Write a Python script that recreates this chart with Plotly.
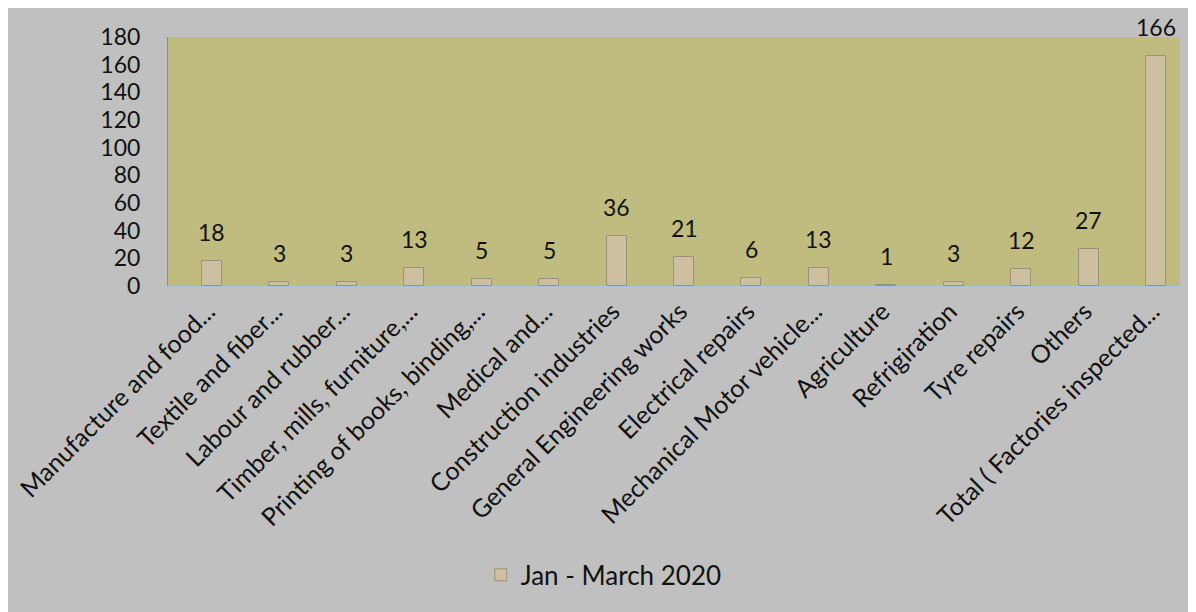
import plotly.graph_objects as go

categories = [
    "Manufacture and food...", "Textile and fiber...", "Labour and rubber...",
    "Timber, mills, furniture,...", "Printing of books, binding,...", "Medical and...",
    "Construction industries", "General Engineering works", "Electrical repairs",
    "Mechanical Motor vehicle...", "Agriculture", "Refrigiration", "Tyre repairs",
    "Others", "Total ( Factories inspected...",
]
values = [18, 3, 3, 13, 5, 5, 36, 21, 6, 13, 1, 3, 12, 27, 166]
series_name = "Jan - March 2020"
y_ticks = [0, 20, 40, 60, 80, 100, 120, 140, 160, 180]

FONT = "Lato"
BAR_W = 0.296

fig = go.Figure()
fig.add_trace(go.Bar(
    x=categories, y=values, name=series_name,
    width=BAR_W, offset=0,
    marker=dict(color="#cdbf9f", line=dict(color="#9a927a", width=1)),
    showlegend=True,
))

for c, v in zip(categories, values):
    fig.add_annotation(
        x=c, y=v, xref="x", yref="y", text=str(v), showarrow=False,
        xanchor="center", yanchor="bottom", xshift=10, yshift=13,
        font=dict(family=FONT, size=23, color="#111111"),
    )

fig.update_layout(
    width=1196, height=612,
    margin=dict(l=160, r=24, t=29, b=334),
    paper_bgcolor="#c0c0c0",
    plot_bgcolor="#c0bc80",
    bargap=0,
    font=dict(family=FONT, color="#111111"),
    showlegend=True,
    legend=dict(
        orientation="h", x=0.309, xanchor="left", y=-1.16, yanchor="middle",
        font=dict(family=FONT, size=26, color="#111111"),
        bgcolor="rgba(0,0,0,0)",
    ),
    xaxis=dict(
        type="category", tickangle=-45, showgrid=False, automargin=False,
        tickfont=dict(family=FONT, size=25, color="#111111"),
        showline=True, linecolor="#a9c4de", linewidth=1,
        ticks="", ticklabelstandoff=0, ticklabelshift=6,
    ),
    yaxis=dict(
        range=[0, 180], tickvals=y_ticks, showgrid=False, zeroline=False,
        automargin=False,
        tickfont=dict(family=FONT, size=23, color="#111111"),
        showline=True, linecolor="#8c8c8c", linewidth=1,
        ticks="", ticklabelstandoff=22,
    ),
)

fig.write_html("out.html")
